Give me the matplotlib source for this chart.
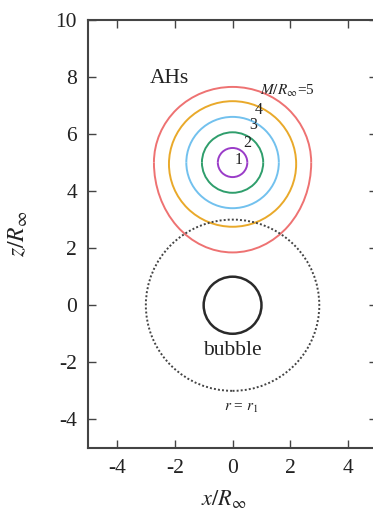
import matplotlib
matplotlib.use("Agg")
import matplotlib.pyplot as plt
from matplotlib.patches import Arc, Circle

# apparent horizons, labelled by M/R_inf
ah_mass = [1, 2, 3, 4, 5]
ah_zc = [5.0, 5.0, 5.0, 4.95, 5.0]
ah_halfwidth = [0.51, 1.06, 1.6, 2.2, 2.72]
ah_up = [0.51, 1.06, 1.6, 2.2, 2.65]
ah_down = [0.51, 1.06, 1.6, 2.2, 3.15]
ah_colors = ["#9a3cc8", "#2f9e6c", "#72c1ee", "#e9a92a", "#ee7272"]

# label positions for the masses
lab_x = [0.2, 0.52, 0.72, 0.92, 0.95]
lab_z = [5.1, 5.7, 6.3, 6.85, 7.5]

bubble_r = 1.0
r1 = 3.0

plt.rcParams["font.family"] = ["Liberation Serif", "DejaVu Serif"]
plt.rcParams["mathtext.fontset"] = "stix"
plt.rcParams["axes.unicode_minus"] = False

fig = plt.figure(figsize=(3.73, 5.09), dpi=100)
ax = fig.add_axes([0.236, 0.12, 0.775, 0.841])

for m, zc, a, up, dn, c in zip(ah_mass, ah_zc, ah_halfwidth, ah_up, ah_down, ah_colors):
    ax.add_patch(Arc((0, zc), 2 * a, 2 * up, theta1=0, theta2=180, color=c, lw=1.4))
    ax.add_patch(Arc((0, zc), 2 * a, 2 * dn, theta1=180, theta2=360, color=c, lw=1.4))

ax.add_patch(Circle((0, 0), r1, fill=False, color="#444444", lw=1.4, ls=(0, (1, 1.1))))
ax.add_patch(Circle((0, 0), bubble_r, fill=False, color="#2a2a2a", lw=1.8))

txt = "#222222"
for m, x, z in zip(ah_mass, lab_x, lab_z):
    if m == 5:
        ax.text(x, z, r"$M/R_{\infty}$=5", fontsize=11, ha="left", va="center", color=txt)
    else:
        ax.text(x, z, str(m), fontsize=11.5, ha="center", va="center", color=txt)

ax.text(-2.2, 7.95, "AHs", fontsize=15.5, ha="center", va="center", color=txt)
ax.text(0.0, -1.58, "bubble", fontsize=15.5, ha="center", va="center", color=txt)
ax.text(0.28, -3.6, r"$r$ = $r_1$", fontsize=11, ha="center", va="center", color=txt)

ax.set_xlim(-5, 5)
ax.set_ylim(-5, 10)
ax.set_xticks([-4, -2, 0, 2, 4])
ax.set_yticks([-4, -2, 0, 2, 4, 6, 8, 10])
ax.tick_params(direction="in", length=6, width=1.0, top=True, right=True,
               labelsize=15.5, colors="#444444", labelcolor=txt, pad=8)
for s in ax.spines.values():
    s.set_color("#444444")
    s.set_linewidth(1.5)

ax.set_xlabel(r"$x/R_{\infty}$", fontsize=16, color=txt)
ax.set_ylabel(r"$z/R_{\infty}$", fontsize=17, color=txt)
ax.xaxis.set_label_coords(0.5 - 0.03, -0.093)
ax.yaxis.set_label_coords(-0.2, 0.5)

fig.savefig("out.png", dpi=100)
